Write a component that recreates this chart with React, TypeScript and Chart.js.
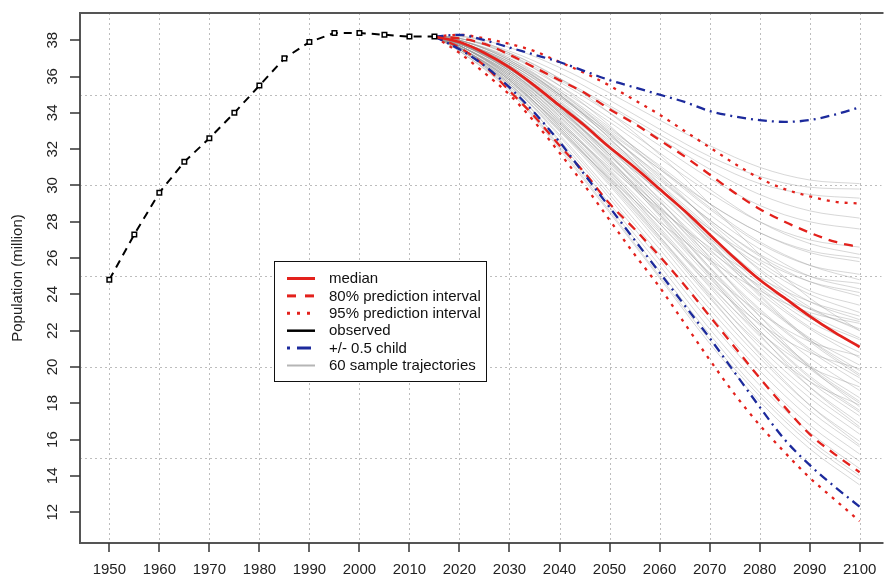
import React, { useEffect, useRef } from 'react';
import { Chart, registerables } from 'chart.js';

Chart.register(...registerables);

// ---------------- data ----------------
const observedYears = [1950, 1955, 1960, 1965, 1970, 1975, 1980, 1985, 1990, 1995, 2000, 2005, 2010, 2015];
const observedPop = [24.8, 27.3, 29.6, 31.3, 32.6, 34.0, 35.5, 37.0, 37.9, 38.4, 38.4, 38.3, 38.2, 38.2];

const projYears = [2015, 2020, 2025, 2030, 2035, 2040, 2045, 2050, 2055, 2060, 2065, 2070, 2075, 2080, 2085, 2090, 2095, 2100];
const median = [38.2, 37.9, 37.3, 36.5, 35.5, 34.4, 33.3, 32.1, 31.0, 29.8, 28.6, 27.3, 26.0, 24.8, 23.8, 22.8, 21.9, 21.1];
const pi80Upper = [38.2, 38.1, 37.8, 37.2, 36.5, 35.8, 35.1, 34.2, 33.4, 32.5, 31.6, 30.6, 29.6, 28.7, 28.0, 27.4, 26.9, 26.6];
const pi80Lower = [38.2, 37.6, 36.6, 35.2, 33.8, 32.2, 30.7, 29.0, 27.6, 26.1, 24.5, 22.8, 21.1, 19.4, 17.8, 16.3, 15.2, 14.2];
const pi95Upper = [38.2, 38.3, 38.1, 37.8, 37.4, 36.8, 36.2, 35.5, 34.7, 33.9, 33.0, 32.1, 31.2, 30.4, 29.8, 29.4, 29.1, 29.0];
const pi95Lower = [38.2, 37.3, 36.2, 35.0, 33.5, 31.8, 30.0, 28.1, 26.2, 24.4, 22.4, 20.4, 18.5, 16.8, 15.3, 13.9, 12.7, 11.5];
const childUpper = [38.2, 38.3, 38.0, 37.6, 37.2, 36.8, 36.3, 35.8, 35.4, 35.0, 34.6, 34.1, 33.8, 33.6, 33.5, 33.6, 33.9, 34.3];
const childLower = [38.2, 37.5, 36.6, 35.4, 34.0, 32.4, 30.6, 28.8, 27.0, 25.2, 23.4, 21.6, 19.7, 17.8, 16.0, 14.6, 13.4, 12.3];

const trajYears = [2015, 2020, 2030, 2040, 2050, 2060, 2070, 2080, 2090, 2100];
const trajectories = [
  [38.2, 38.2, 37.6, 36.5, 35.1, 33.6, 32.2, 31.0, 30.3, 30.1],
  [38.2, 38.1, 37.4, 36.2, 34.7, 33.1, 31.6, 30.5, 29.9, 29.8],
  [38.2, 38.2, 37.3, 35.9, 34.4, 32.8, 31.3, 30.1, 29.5, 29.3],
  [38.2, 38.0, 37.1, 35.7, 34.0, 32.2, 30.4, 28.9, 28.0, 27.6],
  [38.2, 38.1, 37.2, 35.8, 34.3, 32.6, 30.9, 29.5, 28.6, 28.2],
  [38.2, 38.0, 36.9, 35.3, 33.5, 31.5, 29.6, 28.0, 27.0, 26.6],
  [38.2, 37.9, 36.8, 35.1, 33.1, 31.1, 29.0, 27.4, 26.4, 26.0],
  [38.2, 38.0, 37.0, 35.5, 33.7, 31.8, 29.8, 28.0, 26.8, 26.2],
  [38.2, 37.9, 36.7, 35.0, 33.0, 30.9, 28.7, 26.8, 25.6, 25.1],
  [38.2, 38.0, 36.9, 35.2, 33.2, 31.0, 28.8, 26.9, 25.6, 24.8],
  [38.2, 37.9, 36.6, 34.8, 32.7, 30.6, 28.4, 26.5, 25.0, 24.3],
  [38.2, 37.8, 36.5, 34.6, 32.5, 30.3, 28.1, 26.1, 24.7, 23.9],
  [38.2, 37.9, 36.7, 34.9, 32.8, 30.5, 28.0, 25.8, 24.2, 23.4],
  [38.2, 37.8, 36.4, 34.5, 32.3, 30.0, 27.6, 25.6, 24.0, 23.0],
  [38.2, 37.9, 36.6, 34.7, 32.4, 30.1, 27.7, 25.4, 23.6, 22.6],
  [38.2, 37.8, 36.5, 34.5, 32.2, 29.8, 27.3, 25.0, 23.2, 22.1],
  [38.2, 37.9, 36.4, 34.3, 32.0, 29.6, 27.1, 24.8, 22.9, 21.6],
  [38.2, 37.8, 36.3, 34.2, 31.8, 29.3, 26.8, 24.4, 22.5, 21.2],
  [38.2, 37.8, 36.5, 34.4, 32.1, 29.6, 26.9, 24.3, 22.2, 20.8],
  [38.2, 37.7, 36.2, 34.0, 31.6, 29.1, 26.5, 24.1, 22.1, 20.5],
  [38.2, 37.8, 36.3, 34.1, 31.7, 29.1, 26.3, 23.7, 21.6, 20.1],
  [38.2, 37.7, 36.1, 33.9, 31.4, 28.8, 26.1, 23.6, 21.5, 19.8],
  [38.2, 37.8, 36.4, 34.2, 31.7, 28.9, 25.9, 23.2, 21.0, 19.4],
  [38.2, 37.7, 36.2, 33.8, 31.2, 28.6, 25.8, 23.1, 20.9, 19.1],
  [38.2, 37.7, 36.0, 33.7, 31.1, 28.4, 25.5, 22.8, 20.5, 18.7],
  [38.2, 37.8, 36.3, 34.0, 31.4, 28.5, 25.4, 22.5, 20.1, 18.3],
  [38.2, 37.7, 36.1, 33.6, 30.9, 28.1, 25.1, 22.3, 19.9, 18.0],
  [38.2, 37.6, 35.9, 33.5, 30.8, 27.9, 24.9, 22.0, 19.5, 17.6],
  [38.2, 37.7, 36.0, 33.4, 30.6, 27.7, 24.6, 21.7, 19.2, 17.3],
  [38.2, 37.6, 35.8, 33.3, 30.5, 27.5, 24.4, 21.4, 18.9, 16.9],
  [38.2, 37.7, 35.9, 33.2, 30.3, 27.2, 24.1, 21.1, 18.6, 16.6],
  [38.2, 37.6, 35.7, 33.1, 30.1, 27.0, 23.8, 20.8, 18.3, 16.3],
  [38.2, 37.6, 35.8, 33.0, 30.0, 26.8, 23.5, 20.5, 17.9, 15.9],
  [38.2, 37.5, 35.6, 32.8, 29.7, 26.5, 23.2, 20.2, 17.6, 15.6],
  [38.2, 37.6, 35.6, 32.7, 29.5, 26.2, 22.9, 19.8, 17.2, 15.2],
  [38.2, 37.5, 35.4, 32.5, 29.3, 25.9, 22.5, 19.4, 16.8, 14.8],
  [38.2, 37.5, 35.5, 32.4, 29.0, 25.6, 22.1, 19.0, 16.4, 14.4],
  [38.2, 37.4, 35.3, 32.2, 28.8, 25.3, 21.8, 18.6, 16.0, 14.0],
  [38.2, 37.4, 35.2, 32.0, 28.5, 24.9, 21.3, 18.1, 15.5, 13.5],
  [38.2, 37.5, 35.3, 32.1, 28.6, 25.0, 21.5, 18.4, 15.8, 13.8],
  [38.2, 38.1, 37.3, 35.9, 34.0, 31.7, 29.0, 26.2, 23.8, 22.0],
  [38.2, 37.6, 35.7, 33.4, 31.0, 28.7, 26.6, 24.9, 23.6, 22.8],
  [38.2, 37.9, 36.8, 35.0, 32.6, 29.8, 26.8, 23.9, 21.4, 19.5],
  [38.2, 37.5, 35.5, 33.0, 30.4, 28.0, 25.9, 24.2, 23.0, 22.4],
  [38.2, 38.0, 37.0, 35.2, 32.9, 30.1, 27.0, 24.0, 21.5, 19.6],
  [38.2, 37.7, 36.0, 33.6, 30.8, 27.9, 25.2, 23.0, 21.4, 20.6],
  [38.2, 37.8, 36.4, 34.3, 31.5, 28.4, 25.1, 22.0, 19.4, 17.5],
  [38.2, 37.6, 35.9, 33.5, 30.7, 27.6, 24.5, 21.9, 20.0, 18.9],
  [38.2, 37.9, 36.6, 34.6, 32.1, 29.2, 26.0, 22.8, 20.0, 17.8],
  [38.2, 37.5, 35.6, 33.1, 30.3, 27.4, 24.7, 22.4, 20.8, 19.9],
  [38.2, 38.0, 36.9, 35.0, 32.6, 29.9, 27.1, 24.6, 22.7, 21.5],
  [38.2, 37.7, 36.1, 33.8, 31.3, 28.8, 26.4, 24.5, 23.2, 22.5],
  [38.2, 37.8, 36.5, 34.3, 31.7, 28.7, 25.5, 22.5, 20.0, 18.1],
  [38.2, 37.6, 35.8, 33.2, 30.2, 27.1, 24.0, 21.3, 19.2, 17.9],
  [38.2, 38.1, 37.2, 35.5, 33.3, 30.7, 27.9, 25.3, 23.3, 22.0],
  [38.2, 37.7, 36.2, 34.1, 31.9, 29.7, 27.6, 25.9, 24.7, 24.1],
  [38.2, 37.9, 36.7, 34.9, 32.9, 30.9, 29.0, 27.4, 26.3, 25.8],
  [38.2, 37.6, 35.8, 33.3, 30.4, 27.2, 23.9, 20.7, 17.9, 15.7],
  [38.2, 37.8, 36.3, 34.0, 31.3, 28.3, 25.0, 21.8, 18.9, 16.7],
  [38.2, 37.9, 36.8, 35.0, 32.8, 30.4, 28.1, 26.2, 25.0, 24.6],
];

const xTickYears = [1950, 1960, 1970, 1980, 1990, 2000, 2010, 2020, 2030, 2040, 2050, 2060, 2070, 2080, 2090, 2100];
const yTickValues = [12, 14, 16, 18, 20, 22, 24, 26, 28, 30, 32, 34, 36, 38];
const yGridValues = [15, 20, 25, 30, 35];
const yAxisTitle = 'Population (million)';
const legendLabels = ['median', '80% prediction interval', '95% prediction interval', 'observed', '+/- 0.5 child', '60 sample trajectories'];

// ---------------- styling ----------------
const FONT = '"Liberation Sans", Arial, Helvetica, sans-serif';
const RED = '#e3211c';
const BLUE = '#1c2a9c';
const GREY = 'rgba(150,150,150,0.55)';

const toXY = (xs: number[], ys: number[]) => xs.map((x, i) => ({ x, y: ys[i] }));

const decorPlugin = {
  id: 'decor',
  beforeDatasetsDraw(chart: any) {
    const { ctx, chartArea: a, scales } = chart;
    const xs = scales.x;
    const ys = scales.y;
    ctx.save();
    ctx.strokeStyle = '#bdbdbd';
    ctx.lineWidth = 1;
    ctx.setLineDash([2, 3]);
    xTickYears.forEach((yr) => {
      const px = Math.round(xs.getPixelForValue(yr)) + 0.5;
      ctx.beginPath();
      ctx.moveTo(px, a.top);
      ctx.lineTo(px, a.bottom);
      ctx.stroke();
    });
    yGridValues.forEach((v) => {
      const py = Math.round(ys.getPixelForValue(v)) + 0.5;
      ctx.beginPath();
      ctx.moveTo(a.left, py);
      ctx.lineTo(a.right, py);
      ctx.stroke();
    });
    ctx.restore();
  },
  afterDatasetsDraw(chart: any) {
    const { ctx, chartArea: a, scales } = chart;
    const xs = scales.x;
    const ys = scales.y;
    ctx.save();
    ctx.setLineDash([]);
    // axes / frame
    ctx.strokeStyle = '#555';
    ctx.lineWidth = 2;
    ctx.beginPath();
    ctx.moveTo(a.right + 2, a.top);
    ctx.lineTo(a.left, a.top);
    ctx.lineTo(a.left, a.bottom);
    ctx.lineTo(a.right + 2, a.bottom);
    ctx.stroke();
    // ticks
    ctx.strokeStyle = '#333';
    ctx.lineWidth = 1.5;
    xTickYears.forEach((yr) => {
      const px = Math.round(xs.getPixelForValue(yr));
      ctx.beginPath();
      ctx.moveTo(px, a.bottom);
      ctx.lineTo(px, a.bottom + 9);
      ctx.stroke();
    });
    yTickValues.forEach((v) => {
      const py = Math.round(ys.getPixelForValue(v));
      ctx.beginPath();
      ctx.moveTo(a.left - 10, py);
      ctx.lineTo(a.left, py);
      ctx.stroke();
    });
    // tick labels
    ctx.fillStyle = '#222';
    ctx.font = `15px ${FONT}`;
    ctx.textAlign = 'center';
    ctx.textBaseline = 'middle';
    xTickYears.forEach((yr) => {
      ctx.fillText(String(yr), xs.getPixelForValue(yr), a.bottom + 27);
    });
    yTickValues.forEach((v) => {
      ctx.save();
      ctx.translate(a.left - 27, ys.getPixelForValue(v));
      ctx.rotate(-Math.PI / 2);
      ctx.fillText(String(v), 0, 0);
      ctx.restore();
    });
    // y title
    ctx.save();
    ctx.translate(18, (a.top + a.bottom) / 2);
    ctx.rotate(-Math.PI / 2);
    ctx.fillStyle = '#222';
    ctx.fillText(yAxisTitle, 0, 0);
    ctx.restore();

    // legend
    const bx = 274.5, by = 261.5, bw = 212, bh = 120;
    ctx.fillStyle = '#fff';
    ctx.fillRect(bx, by, bw, bh);
    ctx.strokeStyle = '#111';
    ctx.lineWidth = 1;
    ctx.strokeRect(bx, by, bw, bh);
    const styles = [
      { c: RED, w: 3, d: [] as number[] },
      { c: RED, w: 3, d: [9, 9] },
      { c: RED, w: 3, d: [3, 7] },
      { c: '#000', w: 2.5, d: [] as number[] },
      { c: BLUE, w: 3, d: [3, 7, 14, 6] },
      { c: '#b5b5b5', w: 2, d: [] as number[] },
    ];
    legendLabels.forEach((lab, i) => {
      const yy = 278.5 + i * 17.4;
      const st = styles[i];
      ctx.strokeStyle = st.c;
      ctx.lineWidth = st.w;
      ctx.setLineDash(st.d);
      ctx.beginPath();
      ctx.moveTo(287, yy);
      ctx.lineTo(315, yy);
      ctx.stroke();
      ctx.setLineDash([]);
      ctx.fillStyle = '#111';
      ctx.textAlign = 'left';
      ctx.textBaseline = 'middle';
      ctx.font = `15px ${FONT}`;
      ctx.fillText(lab, 329, yy + 0.5);
    });
    ctx.restore();
  },
};

export default function App() {
  const ref = useRef<HTMLCanvasElement | null>(null);

  useEffect(() => {
    document.body.style.margin = '0';
    const canvas = ref.current;
    if (!canvas) return;

    const trajSets = trajectories.map((tr) => ({
      data: toXY(trajYears, tr),
      borderColor: GREY,
      borderWidth: 0.7,
      pointRadius: 0,
      cubicInterpolationMode: 'monotone' as const,
      order: 100,
    }));

    const line = (ys: number[], color: string, width: number, dash: number[], order: number) => ({
      data: toXY(projYears, ys),
      borderColor: color,
      borderWidth: width,
      borderDash: dash,
      pointRadius: 0,
      cubicInterpolationMode: 'monotone' as const,
      order,
    });

    const chart = new Chart(canvas, {
      type: 'line',
      data: {
        datasets: [
          ...trajSets,
          line(pi95Upper, RED, 2.3, [3, 6], 6),
          line(pi95Lower, RED, 2.3, [3, 6], 6),
          line(pi80Upper, RED, 2.3, [9, 7], 5),
          line(pi80Lower, RED, 2.3, [9, 7], 5),
          line(childUpper, BLUE, 2.3, [9, 5, 2, 5], 4),
          line(childLower, BLUE, 2.3, [9, 5, 2, 5], 4),
          line(median, RED, 2.7, [], 3),
          {
            data: toXY(observedYears, observedPop),
            borderColor: '#000',
            borderWidth: 2,
            borderDash: [8, 6],
            pointStyle: 'rect',
            pointRadius: 3.2,
            pointBackgroundColor: '#fff',
            pointBorderColor: '#000',
            pointBorderWidth: 1.5,
            order: 0,
          },
        ],
      },
      options: {
        animation: false,
        responsive: false,
        devicePixelRatio: 1,
        layout: { padding: { top: 13, left: 80, right: 0, bottom: 35 } },
        plugins: { legend: { display: false }, tooltip: { enabled: false } },
        events: [],
        scales: {
          x: { type: 'linear', min: 1944.14, max: 2104.37, display: false },
          y: { type: 'linear', min: 10.3, max: 39.5, display: false },
        },
      },
      plugins: [decorPlugin],
    } as any);

    return () => chart.destroy();
  }, []);

  return (
    <canvas
      ref={ref}
      width={887}
      height={578}
      style={{ display: 'block', width: '887px', height: '578px', background: '#fff' }}
    />
  );
}
